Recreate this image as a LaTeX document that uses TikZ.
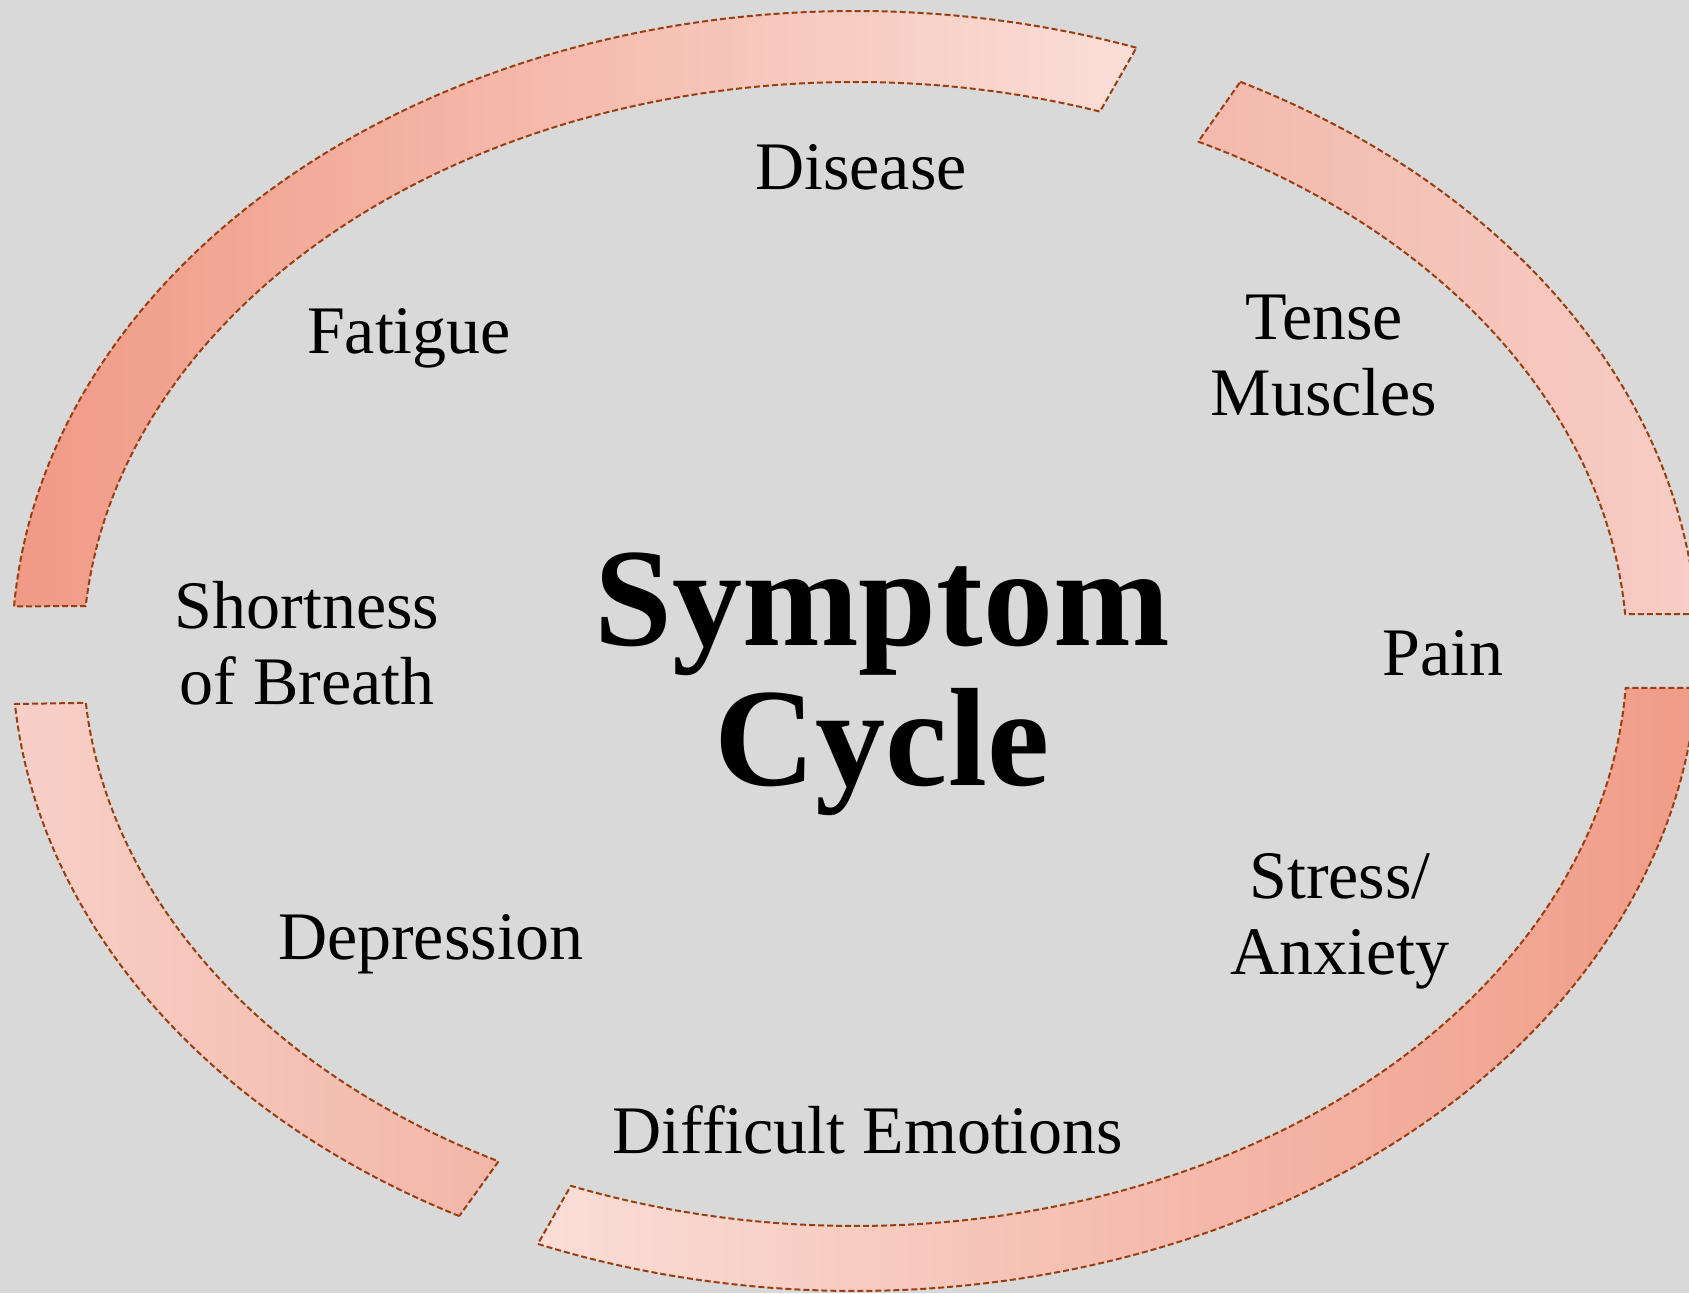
\documentclass[tikz,border=0pt]{standalone}
\usepackage{fontspec}
\setmainfont{Liberation Serif}
\definecolor{bgcol}{HTML}{D9D9D9}
\definecolor{segline}{HTML}{9A3E10}
\definecolor{cAdark}{HTML}{F09A86}
\definecolor{cAlight}{HTML}{FADED8}
\definecolor{cBleft}{HTML}{F3BAAD}
\definecolor{cBright}{HTML}{F7CDC5}
\definecolor{cCdark}{HTML}{F09C88}
\definecolor{cClight}{HTML}{FADED8}
\definecolor{cDleft}{HTML}{F8D0C8}
\definecolor{cDright}{HTML}{F2B6A8}
\begin{document}
\begin{tikzpicture}[x=1pt,y=1pt,
  seg/.style={draw=segline, line width=2pt, dash pattern=on 6pt off 3pt, line join=round},
  lbl/.style={font=\fontsize{68}{76}\selectfont, align=center, text=black, inner sep=0pt},
  ttl/.style={font=\fontsize{140}{140}\selectfont\bfseries, align=center, text=black, inner sep=0pt}]
\fill[bgcol] (0,0) rectangle (1689,1293);
\useasboundingbox (0,0) rectangle (1689,1293);
\begin{scope}
\clip (0,0) rectangle (1689,1293);
% segment A (top-left)
\path[seg, left color=cAdark, right color=cAlight]
  ([shift={(855pt,642pt)}]70.5:843pt and 640pt)
  arc[start angle=70.5, end angle=176, x radius=843pt, y radius=640pt]
  -- ([shift={(855pt,639pt)}]175.2:772pt and 572pt)
  arc[start angle=175.2, end angle=71.5, x radius=772pt, y radius=572pt]
  -- cycle;
% segment B (top-right)
\path[seg, left color=cBleft, right color=cBright]
  ([shift={(855pt,642pt)}]62.8:843pt and 640pt)
  arc[start angle=62.8, end angle=3.3, x radius=843pt, y radius=640pt]
  -- ([shift={(855pt,639pt)}]4.0:772pt and 572pt)
  arc[start angle=4.0, end angle=63.6, x radius=772pt, y radius=572pt]
  -- cycle;
% segment C (bottom-right)
\path[seg, left color=cClight, right color=cCdark]
  ([shift={(855pt,642pt)}]-3.3:843pt and 640pt)
  arc[start angle=-3.3, end angle=-112.1, x radius=843pt, y radius=640pt]
  -- ([shift={(855pt,639pt)}]-111.6:772pt and 572pt)
  arc[start angle=-111.6, end angle=-3.4, x radius=772pt, y radius=572pt]
  -- cycle;
% segment D (bottom-left)
\path[seg, left color=cDleft, right color=cDright]
  ([shift={(855pt,642pt)}]242:843pt and 640pt)
  arc[start angle=242, end angle=184.75, x radius=843pt, y radius=640pt]
  -- ([shift={(855pt,639pt)}]184.9:772pt and 572pt)
  arc[start angle=184.9, end angle=242.5, x radius=772pt, y radius=572pt]
  -- cycle;
\end{scope}
% labels (anchor=base sits on the last line)
\node[lbl, anchor=base] (disease) at (861,1103) {Disease};
\node[lbl, anchor=base] (fatigue) at (409,939) {Fatigue};
\node[lbl, anchor=base] (tense) at (1324,877) {Tense\\Muscles};
\node[lbl, anchor=base] (breath) at (307,588) {Shortness\\of Breath};
\node[lbl, anchor=base] (pain) at (1443,617) {Pain};
\node[lbl, anchor=base] (stress) at (1340,318) {Stress/\\Anxiety};
\node[lbl, anchor=base] (depr) at (431,333) {Depression};
\node[lbl, anchor=base] (emot) at (868,139) {Difficult Emotions};
\node[ttl, anchor=base] (title) at (882,507) {Symptom\\Cycle};
\end{tikzpicture}
\end{document}
